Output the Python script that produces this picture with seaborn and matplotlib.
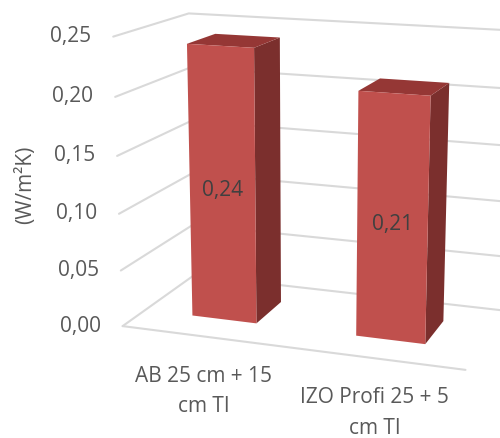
import numpy as np
import matplotlib
matplotlib.use("Agg")
import matplotlib.pyplot as plt
import matplotlib.transforms as mtransforms
import seaborn as sns

# --- data ---
categories = ["AB 25 cm + 15\ncm TI", "IZO Profi 25 + 5\ncm TI"]
u_values = [0.24, 0.21]
tick_values = [0.00, 0.05, 0.10, 0.15, 0.20, 0.25]
tick_labels = ["0,00", "0,05", "0,10", "0,15", "0,20", "0,25"]
value_labels = ["0,24", "0,21"]
y_title = "(W/m²K)"

# camera of the 3D view: (category x, depth, value) -> pixel (u, v)
P = np.array([
    [153.923, 92.5422, -59.9751, 122.645],
    [7.97579, -20.5913, -1165.13, 326.106],
    [-0.037596, 0.109761, -0.196512, 1.0],
])


def project(x, y, z):
    x, y, z = np.broadcast_arrays(np.asarray(x, float), np.asarray(y, float), np.asarray(z, float))
    p = P @ np.stack([x, y, z, np.ones_like(x)])
    return p[0] / p[2], p[1] / p[2]


class FrontFace(mtransforms.Transform):
    # maps seaborn's bar coords (x, value) onto the front plane of the bars
    input_dims = 2
    output_dims = 2

    def __init__(self, face_depth):
        super().__init__()
        self._face_depth = face_depth

    def transform_non_affine(self, values):
        values = np.asarray(values, float)
        u, v = project(values[:, 0] + 0.5, self._face_depth, values[:, 1])
        return np.column_stack([u, v])


sns.set_theme(style="white")
plt.rcParams["font.family"] = ["Open Sans", "DejaVu Sans"]

front_col, top_col, side_col = "#C0504D", "#953735", "#7B2F2D"
grid_col = "#D9D9D9"
txt_col = "#595959"
d0, d1 = 0.3, 0.7  # bar depth range
fs = 15

fig = plt.figure(figsize=(5, 4.38), dpi=100)
ax = fig.add_axes([0, 0, 1, 1])

sns.barplot(x=categories, y=u_values, width=0.4, color=front_col, saturation=1, ax=ax)
ax.set_xlim(0, 500)
ax.set_ylim(438, 0)
ax.axis("off")

# walls / floor grid
for t, lab in zip(tick_values, tick_labels):
    u, v = project([0, 0, 2], [0, 1, 1], [t, t, t])
    ax.plot(u, v, color=grid_col, lw=1.5, zorder=1)
    u0, v0 = project(0, 0, t)
    ax.text(u0 - 22, v0, lab, ha="right", va="center", fontsize=fs, color=txt_col)
u, v = project([0, 2], [0, 0], [0, 0])
ax.plot(u, v, color=grid_col, lw=1.5, zorder=1)

ym, vm = project(0, 0, max(tick_values) / 2)
ax.text(ym - 92, vm, y_title, rotation=90, ha="center", va="center", fontsize=fs, color=txt_col)

for i, bar in enumerate(ax.patches):
    x0 = bar.get_x() + 0.5
    x1 = x0 + bar.get_width()
    h = bar.get_height()
    bar.set_transform(FrontFace(d0) + ax.transData)
    bar.set_edgecolor("none")
    bar.set_zorder(3)
    su, sv = project([x1, x1, x1, x1], [d0, d1, d1, d0], [0, 0, h, h])
    ax.fill(su, sv, color=side_col, lw=0, zorder=2)
    tu, tv = project([x0, x1, x1, x0], [d0, d0, d1, d1], [h, h, h, h])
    ax.fill(tu, tv, color=top_col, lw=0, zorder=2)
    cu, cv = project((x0 + x1) / 2, d0, h / 2)
    ax.text(cu, cv + 5, value_labels[i], ha="center", va="center", fontsize=fs,
            color="#404040", zorder=4)
    lu, lv = project((x0 + x1) / 2, 0, 0)
    ax.text(lu, lv + 55, categories[i], ha="center", va="center", fontsize=fs,
            color=txt_col, linespacing=1.6)

fig.savefig("out.png", dpi=100)
